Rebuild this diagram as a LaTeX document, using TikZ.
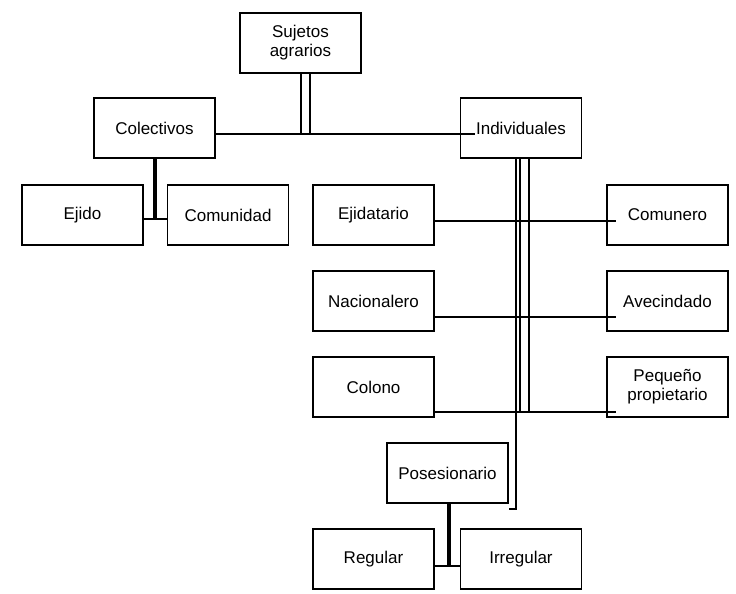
\documentclass[tikz,border=0pt]{standalone}
\usepackage{fontspec}
\setmainfont{Liberation Sans}
\usetikzlibrary{positioning,calc}

\begin{document}
\begin{tikzpicture}[x=1pt,y=-1pt,
box/.style={rectangle, draw=black, line width=1.8pt, minimum width=121pt, minimum height=60pt, align=center, font=\fontsize{17}{19}\selectfont, inner sep=1pt},
link/.style={draw=black, line width=2.2pt},
thick link/.style={draw=black, line width=4pt}
]
\useasboundingbox (0,0) rectangle (736,594);
%Nodes
\node[box] (sujetos) at (300.5,43) {Sujetos\\agrarios};
\node[box] (colectivos) at (154.5,128) {Colectivos};
\node[box] (individuales) at (521,128) {Individuales};
\node[box] (ejido) at (82.5,215) {Ejido};
\node[box] (comunidad) at (228,215) {Comunidad};
\node[box] (ejidatario) at (373.5,215) {Ejidatario};
\node[box] (comunero) at (667.5,215) {Comunero};
\node[box] (nacionalero) at (373.5,301) {Nacionalero};
\node[box] (avecindado) at (667.5,301) {Avecindado};
\node[box] (colono) at (373.5,387) {Colono};
\node[box] (pequeno) at (667.5,387) {Peque\~no\\propietario};
\node[box] (posesionario) at (447.5,473) {Posesionario};
\node[box] (regular) at (373.5,559) {Regular};
\node[box] (irregular) at (521,559) {Irregular};
%Lines
\draw[link] ($(sujetos.south)+(0.5,0)$) -- ++(0,61);
\draw[link] ($(sujetos.south)+(9.5,0)$) -- ++(0,61);
\draw[link] (colectivos.east |- 0,134) -- ($(individuales.west)+(15,6)$);
\draw[thick link] (colectivos.south) -- ++(0,60) coordinate (colj);
\draw[link] (ejido.east |- colj) -- (comunidad.west |- colj);
\draw[link] ($(individuales.south)+(-5,0)$) -- ++(0,350) coordinate (posj) -- (posj -| posesionario.east);
\draw[link] ($(individuales.south)+(-1,0)$) -- ++(0,254);
\draw[link] ($(individuales.south)+(8,0)$) -- ++(0,254);
\draw[link] ($(ejidatario.east)+(0,6)$) -- ($(comunero.west)+(10,6)$);
\draw[link] ($(nacionalero.east)+(0,16)$) -- ($(avecindado.west)+(10,16)$);
\draw[link] ($(colono.east)+(0,25)$) -- ($(pequeno.west)+(10,25)$);
\draw[thick link] ($(posesionario.south)+(1,0)$) -- ++(0,62) coordinate (posr);
\draw[link] (regular.east |- posr) -- (irregular.west |- posr);
\end{tikzpicture}
\end{document}
